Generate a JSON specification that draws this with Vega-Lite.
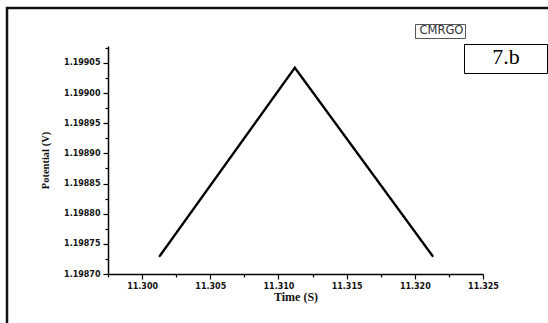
{
  "$schema": "https://vega.github.io/schema/vega-lite/v6.json",
  "width": 545,
  "height": 320,
  "autosize": {"type": "none"},
  "padding": {"left": 7, "top": 8, "right": 0, "bottom": 0},
  "background": "white",
  "config": {
    "view": {"stroke": "#111", "strokeWidth": 2.5},
    "axis": {
      "domainColor": "#000",
      "domainWidth": 1.5,
      "tickColor": "#000",
      "tickWidth": 1.2,
      "grid": false,
      "labelFont": "DejaVu Sans",
      "labelFontWeight": "bold",
      "labelFontSize": 8,
      "labelColor": "#111",
      "titleFont": "Liberation Serif",
      "titleFontWeight": "bold",
      "titleColor": "#111"
    }
  },
  "data": {
    "values": [
      {"time": 11.3013, "potential": 1.19873, "sample": "CMRGO", "panel": "7.b"},
      {"time": 11.3112, "potential": 1.199042, "sample": "CMRGO", "panel": "7.b"},
      {"time": 11.3213, "potential": 1.19873, "sample": "CMRGO", "panel": "7.b"}
    ]
  },
  "mark": {"type": "line", "strokeWidth": 2.4, "strokeCap": "round"},
  "encoding": {
    "x": {
      "field": "time",
      "type": "quantitative",
      "scale": {"domain": [11.2975, 11.325], "range": [101, 476], "nice": false, "zero": false},
      "axis": {
        "title": "Time (S)",
        "titleFontSize": 12,
        "titlePadding": 1,
        "offset": -54,
        "values": [11.2975, 11.3, 11.3025, 11.305, 11.3075, 11.31, 11.3125, 11.315, 11.3175, 11.32, 11.3225, 11.325],
        "labelExpr": "abs(datum.value*200 - round(datum.value*200)) < 0.01 ? format(datum.value, '.3f') : ''",
        "tickSize": {"condition": {"test": "abs(datum.value*200 - round(datum.value*200)) < 0.01", "value": 5}, "value": 3},
        "labelPadding": 3,
        "labelFlush": false,
        "labelOverlap": false
      }
    },
    "y": {
      "field": "potential",
      "type": "quantitative",
      "scale": {"domain": [1.1987, 1.199078], "range": [266, 38], "nice": false, "zero": false},
      "axis": {
        "title": "Potential (V)",
        "titleFontSize": 10.5,
        "titlePadding": 13,
        "offset": -101,
        "values": [1.1987, 1.198725, 1.19875, 1.198775, 1.1988, 1.198825, 1.19885, 1.198875, 1.1989, 1.198925, 1.19895, 1.198975, 1.199, 1.199025, 1.19905, 1.199075],
        "labelExpr": "abs(datum.value*20000 - round(datum.value*20000)) < 0.01 ? format(datum.value, '.5f') : ''",
        "tickSize": {"condition": {"test": "abs(datum.value*20000 - round(datum.value*20000)) < 0.01", "value": 5}, "value": 3},
        "labelPadding": 3,
        "labelFlush": false,
        "labelOverlap": false
      }
    },
    "color": {
      "field": "sample",
      "type": "nominal",
      "scale": {"range": ["#000000"]},
      "legend": {
        "orient": "none",
        "legendX": 408,
        "legendY": 16,
        "title": null,
        "strokeColor": "#555",
        "padding": 1,
        "symbolSize": 0.01,
        "symbolOpacity": 0,
        "symbolStrokeWidth": 0,
        "labelOffset": -8,
        "labelFont": "DejaVu Sans",
        "labelFontSize": 11.5,
        "labelColor": "#333"
      }
    },
    "strokeDash": {
      "field": "panel",
      "type": "nominal",
      "scale": {"range": [[1, 0]]},
      "legend": {
        "orient": "none",
        "legendX": 457,
        "legendY": 36,
        "title": "7.b",
        "titleFont": "Liberation Serif",
        "titleFontSize": 22,
        "titleFontWeight": "normal",
        "titleColor": "#000",
        "titleAnchor": "middle",
        "titlePadding": 0,
        "strokeColor": "#000",
        "padding": 3,
        "symbolSize": 0.01,
        "symbolOpacity": 0,
        "symbolStrokeWidth": 0,
        "labelExpr": "''",
        "labelFontSize": 1,
        "labelOffset": 76
      }
    }
  }
}
